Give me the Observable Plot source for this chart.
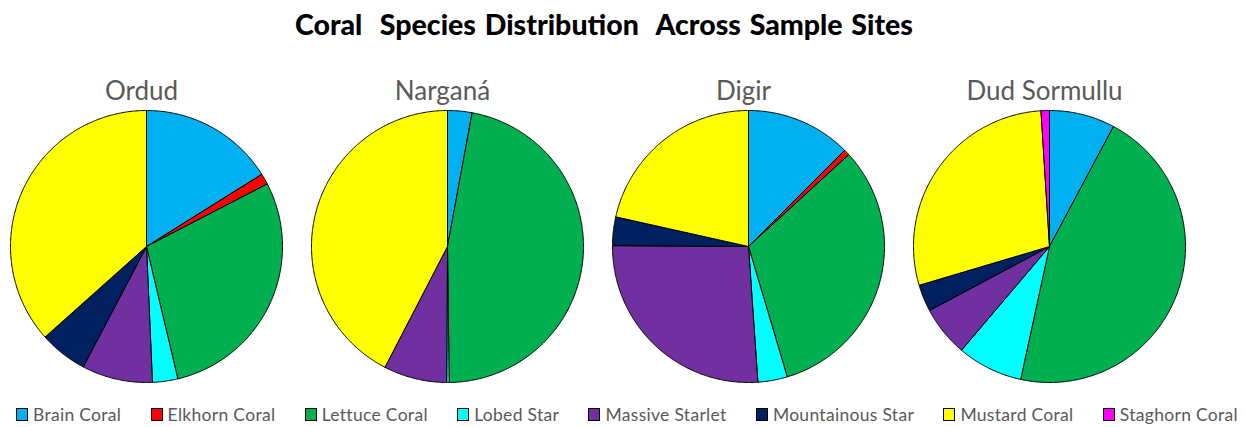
<!DOCTYPE html>
<html>
<head>
<meta charset="utf-8">
<script src="https://cdn.jsdelivr.net/npm/d3@7"></script>
<script src="https://cdn.jsdelivr.net/npm/@observablehq/plot@0.6"></script>
<style>
  html, body { margin: 0; padding: 0; background: #fff; }
  #wrap { width: 1246px; height: 427px; position: relative; overflow: hidden; }
  #title { height: 50px; line-height: 48px; text-align: center; font-family: Lato, sans-serif; font-weight: 900; font-size: 28.5px; color: #000; white-space: pre; word-spacing: 2px; padding-right: 38px; }
  #legend { display: flex; justify-content: space-between; align-items: center; padding: 6px 8px 0 16px; height: 26px; font-family: Lato, sans-serif; font-size: 17.5px; letter-spacing: 0.3px; color: #595959; }
  #legend .item { display: flex; align-items: center; white-space: nowrap; }
  #legend .sw { width: 10px; height: 11px; border: 1px solid #000; margin-right: 5px; }
</style>
</head>
<body>
<div id="wrap">
  <div id="title">Coral  Species Distribution  Across Sample Sites</div>
  <div id="chart"></div>
  <div id="legend"></div>
</div>
<script>
const species = ["Brain Coral", "Elkhorn Coral", "Lettuce Coral", "Lobed Star", "Massive Starlet", "Mountainous Star", "Mustard Coral", "Staghorn Coral"];
const colors = ["#00B0F0", "#FF0000", "#00B050", "#00FFFF", "#7030A0", "#002060", "#FFFF00", "#FF00FF"];
const sites = ["Ordud", "Narganá", "Digir", "Dud Sormullu"];
// percentage shares per site, in species order
const ordud = [16.1, 1.3, 28.9, 3.0, 8.4, 5.7, 36.6, 0];
const nargana = [2.9, 0, 46.9, 0.3, 7.5, 0, 42.4, 0];
const digir = [12.5, 0.7, 32.2, 3.5, 26.2, 3.4, 21.5, 0];
const dudSormullu = [7.8, 0, 45.6, 7.8, 6.0, 3.2, 28.6, 1.0];

const siteValues = [ordud, nargana, digir, dudSormullu];

// layout (pixel based)
const W = 1246, H = 345, step = 301, firstCx = 146, cy = 196, radiusPx = 136;
const R = radiusPx / step;

// build slice outlines from pie angles
const pie = d3.pie().sort(null).value(d => d);
const points = [];
siteValues.forEach((vals, si) => {
  const arcs = pie(vals);
  arcs.forEach((a, k) => {
    if (vals[k] <= 0) return;
    const key = sites[si] + "|" + species[k];
    points.push({key, species: species[k], x: si, y: 0});
    const n = Math.max(2, Math.ceil((a.endAngle - a.startAngle) / (Math.PI / 360)));
    for (let j = 0; j <= n; j++) {
      const t = a.startAngle + (a.endAngle - a.startAngle) * j / n;
      points.push({key, species: species[k], x: si + R * Math.sin(t), y: R * Math.cos(t)});
    }
    points.push({key, species: species[k], x: si, y: 0});
  });
});

const chart = Plot.plot({
  width: W,
  height: H,
  margin: 0,
  x: {domain: [-firstCx / step, (W - firstCx) / step], axis: null},
  y: {domain: [-(H - cy) / step, cy / step], axis: null},
  color: {domain: species, range: colors},
  marks: [
    Plot.line(points, {x: "x", y: "y", z: "key", fill: "species", stroke: "black", strokeWidth: 1, strokeLinejoin: "round", curve: "linear"}),
    Plot.text(sites, {x: (d, i) => i, frameAnchor: "top", dy: 31, dx: -5, text: d => d, fill: "#595959", fontSize: 26, fontFamily: "Lato, sans-serif"})
  ]
});
document.getElementById("chart").appendChild(chart);

const legend = document.getElementById("legend");
species.forEach((s, i) => {
  const item = document.createElement("div");
  item.className = "item";
  const sw = document.createElement("span");
  sw.className = "sw";
  sw.style.background = colors[i];
  item.appendChild(sw);
  const t = document.createElement("span");
  t.textContent = s;
  item.appendChild(t);
  legend.appendChild(item);
});
</script>
</body>
</html>
